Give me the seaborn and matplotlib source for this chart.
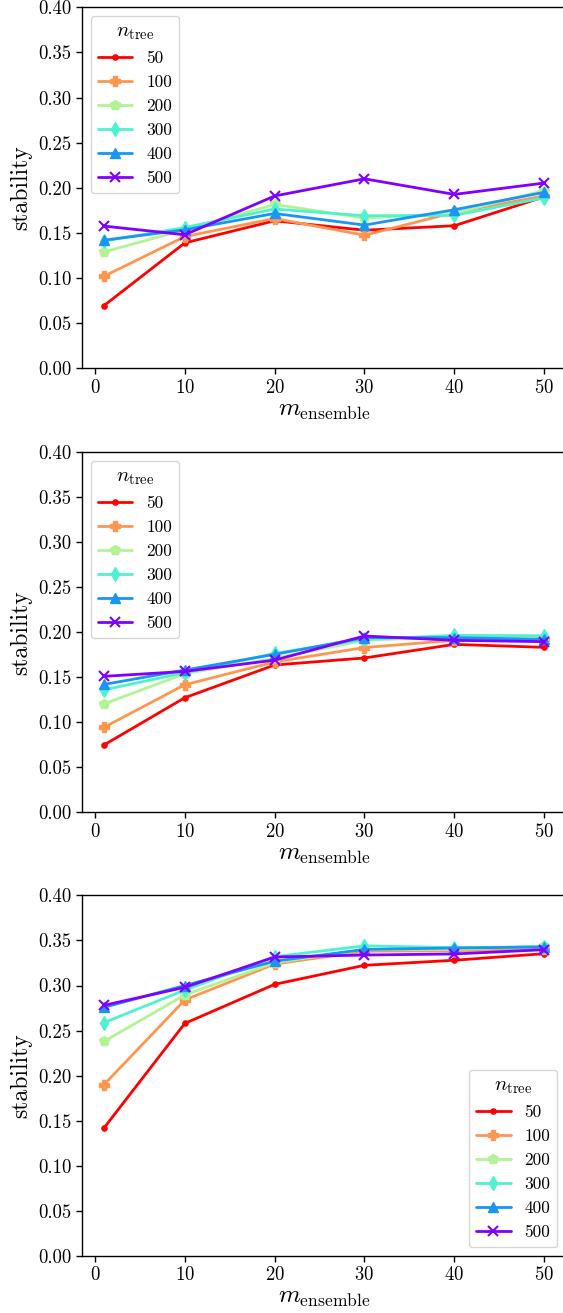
import numpy as np
import pandas as pd
import matplotlib
matplotlib.use("Agg")
import matplotlib.pyplot as plt
import seaborn as sns

# ensemble sizes on the x axis and forest sizes shown as separate series
m_ensemble = [1, 10, 20, 30, 40, 50]
n_tree = [50, 100, 200, 300, 400, 500]

# stability per panel, one list per n_tree value
panel_a = {
    50:  [0.0695, 0.139, 0.1635, 0.153, 0.158, 0.190],
    100: [0.102, 0.146, 0.166, 0.1475, 0.1727, 0.191],
    200: [0.129, 0.1535, 0.1816, 0.1665, 0.172, 0.197],
    300: [0.141, 0.156, 0.1765, 0.169, 0.1694, 0.189],
    400: [0.142, 0.1535, 0.1716, 0.1587, 0.1757, 0.195],
    500: [0.1576, 0.148, 0.191, 0.210, 0.1927, 0.2053],
}
panel_b = {
    50:  [0.0748, 0.1273, 0.1636, 0.1714, 0.1865, 0.1832],
    100: [0.0944, 0.1417, 0.167, 0.183, 0.191, 0.192],
    200: [0.1203, 0.154, 0.171, 0.191, 0.195, 0.194],
    300: [0.136, 0.155, 0.1765, 0.192, 0.1965, 0.196],
    400: [0.142, 0.158, 0.1754, 0.194, 0.194, 0.192],
    500: [0.151, 0.1565, 0.169, 0.1958, 0.191, 0.1895],
}
panel_c = {
    50:  [0.142, 0.258, 0.3013, 0.3224, 0.328, 0.3353],
    100: [0.190, 0.284, 0.3238, 0.338, 0.3386, 0.340],
    200: [0.238, 0.2895, 0.3253, 0.340, 0.340, 0.344],
    300: [0.2588, 0.295, 0.332, 0.344, 0.342, 0.343],
    400: [0.2758, 0.300, 0.327, 0.340, 0.3416, 0.3427],
    500: [0.278, 0.298, 0.3316, 0.3338, 0.335, 0.3397],
}
panels = [panel_a, panel_b, panel_c]
legend_locs = ["upper left", "upper left", "lower right"]

sns.set_style("ticks")
plt.rcParams.update({
    "font.family": ["cmr10", "DejaVu Serif"],
    "mathtext.fontset": "cm",
    "axes.formatter.use_mathtext": True,
    "axes.unicode_minus": False,
    "axes.edgecolor": "black",
    "xtick.color": "black",
    "ytick.color": "black",
    "text.color": "black",
    "axes.labelcolor": "black",
    "axes.linewidth": 1.0,
})

colors = [plt.cm.rainbow(v) for v in np.linspace(1, 0, len(n_tree))]
marker_list = [".", "P", "p", "d", "^", "x"]

fig = plt.figure(figsize=(5.63, 13.13), dpi=100)
axes_pos = [
    [0.1456, 0.7195, 0.860, 0.2749],
    [0.1456, 0.3813, 0.860, 0.2744],
    [0.1456, 0.0434, 0.860, 0.2747],
]

for pos, data, loc in zip(axes_pos, panels, legend_locs):
    ax = fig.add_axes(pos)
    for n, c, mk in zip(n_tree, colors, marker_list):
        df = pd.DataFrame({"m": m_ensemble, "stability": data[n]})
        sns.lineplot(
            data=df, x="m", y="stability", color=c, marker=mk,
            markersize=7.5, markeredgecolor=c, markerfacecolor=c,
            markeredgewidth=1.5 if mk == "x" else 1.0, linewidth=2.0,
            ax=ax, errorbar=None, label=str(n),
        )
    ax.legend(title=r"$n_{\rm tree}$", loc=loc, fontsize=12.5,
              title_fontsize=15, frameon=True, fancybox=True,
              framealpha=0.8, edgecolor="0.8")
    ax.set_ylim(0, 0.4)
    yt = np.arange(0, 0.401, 0.05)
    ax.set_yticks(yt)
    ax.set_yticklabels([f"{v:.2f}" for v in yt])
    ax.set_xticks([0, 10, 20, 30, 40, 50])
    ax.tick_params(labelsize=13.5, length=4, width=1.0)
    ax.set_xlabel(r"$m_{\rm ensemble}$", fontsize=18, labelpad=2)
    ax.set_ylabel("stability", fontsize=17)
    for side in ["top", "left", "bottom"]:
        ax.spines[side].set_visible(True)
    ax.spines["right"].set_visible(False)

fig.savefig("out.png", dpi=100)
